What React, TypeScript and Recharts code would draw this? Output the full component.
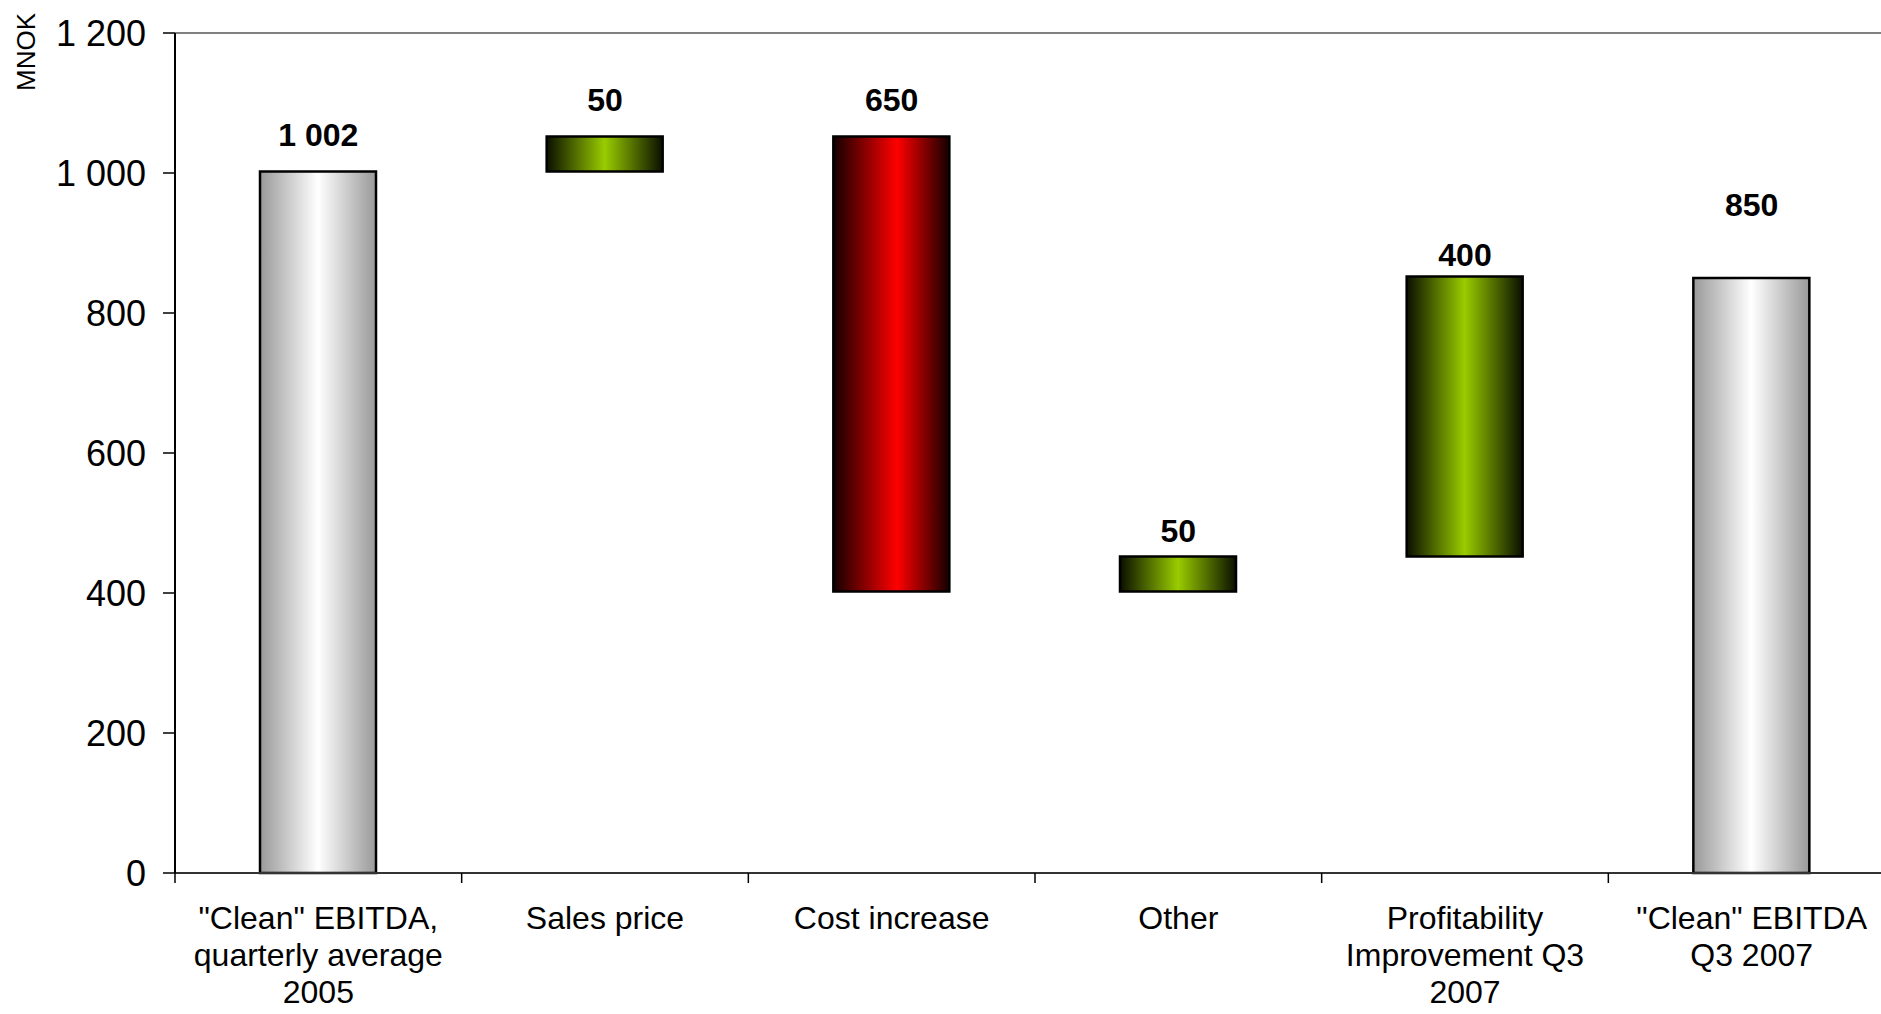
import React from 'react';
import {
  ComposedChart,
  Bar,
  Line,
  Cell,
  XAxis,
  YAxis,
  ReferenceLine,
  LabelList,
} from 'recharts';

// Waterfall: EBITDA bridge 2005 -> Q3 2007 (MNOK)
const categories = [
  '"Clean" EBITDA,\nquarterly average\n2005',
  'Sales price',
  'Cost increase',
  'Other',
  'Profitability\nImprovement Q3\n2007',
  '"Clean" EBITDA\nQ3 2007',
];
const changes = [1002, 50, -650, 50, 400, 850];
const kinds = ['total', 'up', 'down', 'up', 'up', 'total'];
// hidden series the value labels sit on (as in the original sheet)
const labelLevels = [1055, 1105, 1105, 488, 883, 955];
const yTicks = [0, 200, 400, 600, 800, 1000, 1200];

const font = '"Liberation Sans", Arial, sans-serif';
const fills: Record<string, string> = {
  total: 'url(#gTotal)',
  up: 'url(#gUp)',
  down: 'url(#gDown)',
};

const fmt = (n: number) =>
  String(Math.abs(n)).replace(/\B(?=(\d{3})+(?!\d))/g, ' ');

// running total -> invisible base + visible step
let running = 0;
const rows = categories.map((name, i) => {
  const v = changes[i];
  let base = 0;
  let step = 0;
  if (kinds[i] === 'total') {
    base = 0;
    step = v;
    running = v;
  } else if (v >= 0) {
    base = running;
    step = v;
    running += v;
  } else {
    running += v;
    base = running;
    step = -v;
  }
  return { name, base, step, level: labelLevels[i], text: fmt(v) };
});

const CHART_W = 1898;
const CHART_H = 1014;
const LEFT = 175;
const RIGHT_PAD = 3;
const HALF_BAND = (CHART_W - LEFT - RIGHT_PAD) / categories.length / 2;

const CategoryTick = (props: any) => {
  const { x, y, payload } = props;
  const lines = String(payload.value).split('\n');
  return (
    <g>
      <line x1={x - HALF_BAND} x2={x - HALF_BAND} y1={y} y2={y + 10} stroke="#000" strokeWidth={1.5} />
      <text x={x} y={y} textAnchor="middle" fontSize={32} fontFamily={font} fill="#000">
        {lines.map((l, i) => (
          <tspan key={i} x={x} dy={i === 0 ? 56 : 37}>
            {l}
          </tspan>
        ))}
      </text>
    </g>
  );
};

const ValueLabel = (props: any) => {
  const { x, y, value } = props;
  return (
    <text
      x={x}
      y={y}
      textAnchor="middle"
      dominantBaseline="central"
      fontSize={32}
      fontWeight="bold"
      fontFamily={font}
      fill="#000"
    >
      {value}
    </text>
  );
};

export default function App() {
  return (
    <div style={{ position: 'fixed', inset: 0, overflow: 'hidden', background: '#fff' }}>
      <ComposedChart
        width={CHART_W}
        height={CHART_H}
        data={rows}
        margin={{ top: 33, right: RIGHT_PAD, left: 0, bottom: 0 }}
        barSize={116}
      >
        <defs>
          <linearGradient id="gTotal" x1="0" y1="0" x2="1" y2="0">
            <stop offset="0%" stopColor="#999999" />
            <stop offset="50%" stopColor="#ffffff" />
            <stop offset="100%" stopColor="#999999" />
          </linearGradient>
          <linearGradient id="gUp" x1="0" y1="0" x2="1" y2="0">
            <stop offset="0%" stopColor="#0a0f00" />
            <stop offset="50%" stopColor="#99cc00" />
            <stop offset="100%" stopColor="#0a0f00" />
          </linearGradient>
          <linearGradient id="gDown" x1="0" y1="0" x2="1" y2="0">
            <stop offset="0%" stopColor="#140000" />
            <stop offset="55%" stopColor="#ff0000" />
            <stop offset="100%" stopColor="#140000" />
          </linearGradient>
        </defs>
        <XAxis
          dataKey="name"
          interval={0}
          height={CHART_H - 33 - 840}
          tickLine={false}
          tickSize={0}
          tickMargin={0}
          axisLine={{ stroke: '#333', strokeWidth: 2 }}
          tick={<CategoryTick />}
        />
        <YAxis
          width={LEFT}
          domain={[0, 1200]}
          ticks={yTicks}
          interval={0}
          tickSize={12}
          tickMargin={17}
          tickFormatter={(v: number) => fmt(v)}
          tick={{ fontSize: 36, fontFamily: font, fill: '#000' }}
          tickLine={{ stroke: '#000', strokeWidth: 1.5 }}
          axisLine={{ stroke: '#000', strokeWidth: 2 }}
          label={{
            content: () => (
              <text
                x={26}
                y={52}
                transform="rotate(-90 26 52)"
                textAnchor="middle"
                dominantBaseline="central"
                fontSize={26}
                fontFamily={font}
                fill="#000"
              >
                MNOK
              </text>
            ),
          }}
        />
        <ReferenceLine y={1200} stroke="#808080" strokeWidth={2} />
        <Bar dataKey="base" stackId="w" fill="transparent" isAnimationActive={false} />
        <Bar dataKey="step" stackId="w" stroke="#000" strokeWidth={2.5} isAnimationActive={false}>
          {rows.map((r, i) => (
            <Cell key={`c-${i}`} fill={fills[kinds[i]]} />
          ))}
        </Bar>
        <Line
          dataKey="level"
          stroke="none"
          dot={false}
          activeDot={false}
          legendType="none"
          isAnimationActive={false}
        >
          <LabelList dataKey="text" content={<ValueLabel />} />
        </Line>
      </ComposedChart>
    </div>
  );
}
